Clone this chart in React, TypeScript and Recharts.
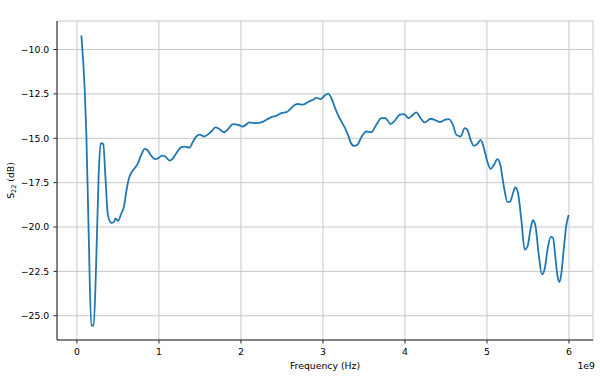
import { LineChart, Line, XAxis, YAxis, CartesianGrid } from 'recharts';

// frequency in GHz (axis shows x1e9 Hz), S22 in dB
const freqGHz = [
  0.054, 0.094, 0.115, 0.143, 0.175, 0.204, 0.236, 0.265, 0.289, 0.322,
  0.346, 0.378, 0.419, 0.451, 0.472, 0.5, 0.541, 0.573, 0.602, 0.634,
  0.671, 0.704, 0.744, 0.785, 0.826, 0.858, 0.899, 0.948, 0.988, 1.037,
  1.078, 1.13, 1.171, 1.212, 1.265, 1.313, 1.374, 1.415, 1.456, 1.496,
  1.549, 1.639, 1.688, 1.74, 1.793, 1.841, 1.902, 1.963, 2.024, 2.106,
  2.188, 2.249, 2.31, 2.371, 2.432, 2.493, 2.554, 2.594, 2.646, 2.695,
  2.756, 2.817, 2.878, 2.92, 2.972, 3.02, 3.061, 3.102, 3.143, 3.183,
  3.224, 3.265, 3.305, 3.338, 3.378, 3.42, 3.468, 3.529, 3.59, 3.651,
  3.712, 3.761, 3.826, 3.883, 3.935, 3.988, 4.045, 4.085, 4.139, 4.191,
  4.24, 4.313, 4.362, 4.423, 4.484, 4.533, 4.585, 4.627, 4.679, 4.728,
  4.761, 4.801, 4.841, 4.883, 4.923, 4.963, 5.005, 5.045, 5.085, 5.127,
  5.158, 5.207, 5.249, 5.28, 5.317, 5.346, 5.378, 5.42, 5.46, 5.493,
  5.533, 5.561, 5.59, 5.63, 5.671, 5.704, 5.744, 5.777, 5.805, 5.834,
  5.859, 5.883, 5.907, 5.939, 5.968, 5.996,
];

const s22dB = [
  -9.21, -12.17, -14.8, -20.3, -25.55, -25.55, -21.8, -17.07, -15.28, -15.32,
  -17.07, -19.33, -19.77, -19.71, -19.52, -19.65, -19.24, -18.86, -18.0, -17.26,
  -16.88, -16.69, -16.41, -15.94, -15.6, -15.66, -15.94, -16.17, -16.13, -15.98,
  -16.03, -16.26, -16.13, -15.84, -15.53, -15.47, -15.53, -15.19, -14.9, -14.79,
  -14.9, -14.62, -14.39, -14.49, -14.66, -14.49, -14.2, -14.24, -14.34, -14.11,
  -14.15, -14.11, -13.96, -13.81, -13.73, -13.58, -13.53, -13.39, -13.15, -13.07,
  -13.11, -12.96, -12.83, -12.73, -12.79, -12.6, -12.49, -12.73, -13.24, -13.68,
  -14.05, -14.39, -14.81, -15.24, -15.43, -15.37, -14.94, -14.62, -14.66, -14.24,
  -13.87, -13.87, -14.2, -13.96, -13.68, -13.64, -13.87, -13.73, -13.54, -13.87,
  -14.11, -13.9, -13.96, -14.09, -13.96, -13.92, -14.24, -14.81, -14.9, -14.43,
  -14.53, -15.09, -15.43, -15.32, -15.09, -15.56, -16.32, -16.73, -16.5, -16.18,
  -16.41, -17.73, -18.58, -18.58, -18.11, -17.77, -18.07, -19.62, -21.27, -21.12,
  -20.08, -19.62, -19.9, -21.5, -22.67, -22.35, -21.12, -20.56, -20.6, -21.69,
  -22.73, -23.1, -22.63, -21.12, -19.9, -19.33,
];

const xTicks = [0, 1, 2, 3, 4, 5, 6];
const yTicks = [-25, -22.5, -20, -17.5, -15, -12.5, -10];

const data = freqGHz.map((f, i) => ({ f, s: s22dB[i] }));

// matplotlib-style 5% autoscale margins
const withMargin = (vals: number[]) => {
  const lo = Math.min(...vals);
  const hi = Math.max(...vals);
  const m = (hi - lo) * 0.05;
  return [lo - m, hi + m];
};
const xDomain = withMargin(freqGHz);
const yDomain = withMargin(s22dB);

const font = '"DejaVu Sans", sans-serif';
const tickStyle = { fontSize: 9.3, fill: '#000', fontFamily: font };
const frame = '#222';

const fmtY = (v: number) => v.toFixed(1).replace('-', '\u2212');

function TitleLabel(props: any) {
  const { x, width } = props.viewBox;
  return (
    <text x={x + width / 2} y={16} textAnchor="middle" fontSize={11.2} fontFamily={font} fill="#000">
      LCA Trace Data
    </text>
  );
}

function XLabel(props: any) {
  const { x, y, width } = props.viewBox;
  return (
    <g fontFamily={font} fontSize={9.3} fill="#000">
      <text x={x + width / 2} y={y + 28.5} textAnchor="middle">
        Frequency (Hz)
      </text>
      <text x={x + width + 2} y={y + 29} textAnchor="end">
        1e9
      </text>
    </g>
  );
}

function YLabel(props: any) {
  const { y, height } = props.viewBox;
  const cx = 14;
  const cy = y + height / 2;
  return (
    <text
      x={cx}
      y={cy}
      transform={`rotate(-90, ${cx}, ${cy})`}
      textAnchor="middle"
      fontFamily={font}
      fontSize={9.3}
      fill="#000"
    >
      S
      <tspan fontSize={6.5} dy={2}>22</tspan>
      <tspan dy={-2}> (dB)</tspan>
    </text>
  );
}

export default function App() {
  return (
    <div style={{ position: 'absolute', left: 0, top: 0, background: '#fff' }}>
      <LineChart width={600} height={376} data={data} margin={{ top: 21, right: 7, bottom: 0, left: 0 }}>
        <CartesianGrid stroke="#c8c8c8" strokeWidth={1} />
        <XAxis
          dataKey="f"
          type="number"
          domain={xDomain}
          allowDataOverflow
          ticks={xTicks}
          interval={0}
          height={36}
          tick={tickStyle}
          tickSize={3.5}
          tickMargin={5}
          tickLine={{ stroke: frame }}
          axisLine={{ stroke: frame }}
          label={XLabel}
        />
        <XAxis
          xAxisId="top"
          orientation="top"
          type="number"
          domain={xDomain}
          allowDataOverflow
          height={0}
          tick={false}
          tickLine={false}
          axisLine={{ stroke: frame }}
          label={TitleLabel}
        />
        <YAxis
          type="number"
          domain={yDomain}
          allowDataOverflow
          ticks={yTicks}
          interval={0}
          width={57}
          tick={tickStyle}
          tickFormatter={fmtY}
          tickSize={3.5}
          tickMargin={4.2}
          tickLine={{ stroke: frame }}
          axisLine={{ stroke: frame }}
          label={YLabel}
        />
        <YAxis
          yAxisId="right"
          orientation="right"
          type="number"
          domain={yDomain}
          allowDataOverflow
          width={0}
          tick={false}
          tickLine={false}
          axisLine={{ stroke: frame }}
        />
        <Line
          type="monotone"
          dataKey="s"
          stroke="#1f77b4"
          strokeWidth={1.8}
          dot={false}
          isAnimationActive={false}
        />
      </LineChart>
    </div>
  );
}
